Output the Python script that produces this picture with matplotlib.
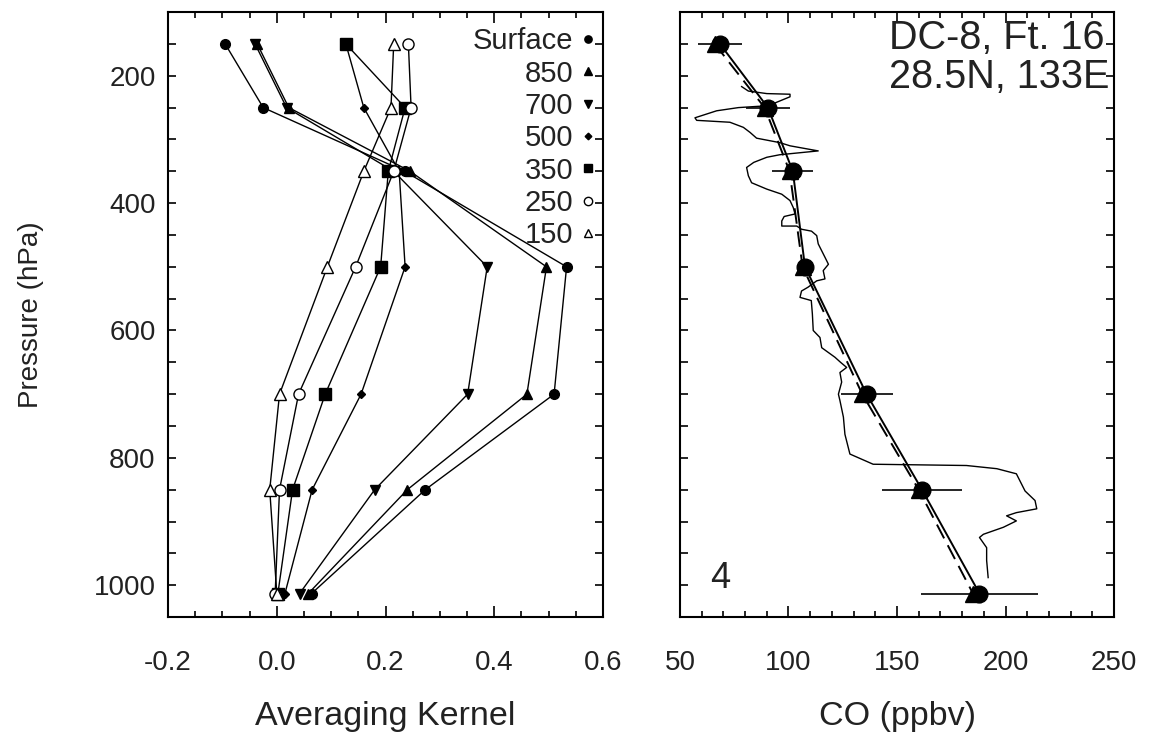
import matplotlib
matplotlib.use('Agg')
import matplotlib.pyplot as plt
from matplotlib.ticker import MultipleLocator
from matplotlib.lines import Line2D

plt.rcParams['font.family'] = ['Liberation Sans', 'DejaVu Sans']

# pressure levels of the retrieval (hPa), last one is the surface
levels = [150, 250, 350, 500, 700, 850, 1013]

# averaging kernel rows, values at each level
ak_surface = [-0.095, -0.025, 0.235, 0.533, 0.510, 0.273, 0.064]
ak_850 = [-0.036, 0.022, 0.245, 0.496, 0.460, 0.240, 0.058]
ak_700 = [-0.040, 0.018, 0.215, 0.387, 0.351, 0.180, 0.042]
ak_500 = [0.127, 0.160, 0.225, 0.236, 0.155, 0.065, 0.015]
ak_350 = [0.127, 0.236, 0.205, 0.191, 0.089, 0.029, 0.002]
ak_250 = [0.242, 0.247, 0.215, 0.145, 0.040, 0.005, -0.003]
ak_150 = [0.215, 0.210, 0.160, 0.093, 0.005, -0.013, 0.000]
ak_labels = ['Surface', '850', '700', '500', '350', '250', '150']

# CO profile (ppbv)
co_retrieved = [68.4, 90.5, 102.0, 107.6, 136.0, 161.5, 188.0]
co_retrieved_err = [10.3, 10.0, 9.5, 3.0, 12.0, 18.5, 27.0]
co_smoothed = [66.0, 89.0, 100.5, 106.5, 134.0, 160.0, 185.0]

insitu_p = [217, 224, 228, 229, 233, 247, 250, 255, 266, 270, 273, 281, 289,
            298, 305, 310, 318, 324, 328, 336, 344, 357, 368, 378, 386, 396,
            407, 417, 421, 428, 436, 436, 441, 444, 451, 464, 485, 496, 506,
            519, 522, 532, 538, 548, 553, 574, 600, 611, 627, 642, 650, 658,
            666, 681, 700, 710, 736, 763, 794, 810, 812, 817, 825, 852, 867,
            880, 886, 891, 899, 909, 920, 925, 941, 961, 988]
insitu_co = [78.4, 81.5, 90.0, 100.7, 100.7, 90.7, 76.9, 66.9, 56.9, 57.7,
             73.0, 79.2, 82.3, 85.3, 96.0, 100.7, 113.7, 96.0, 90.0, 84.0,
             80.7, 81.5, 83.0, 90.0, 96.9, 100.7, 102.2, 103.0, 98.0, 96.9,
             96.9, 103.8, 106.0, 110.6, 113.0, 113.7, 116.8, 118.4, 116.0,
             116.8, 113.0, 109.0, 106.0, 105.3, 110.5, 111.0, 111.4, 114.5,
             115.3, 121.4, 124.0, 126.8, 123.7, 124.5, 123.0, 123.7, 125.3,
             126.0, 128.3, 139.0, 182.0, 196.0, 205.0, 209.0, 213.6, 214.4,
             205.0, 200.5, 205.0, 199.0, 189.8, 188.0, 191.3, 191.3, 192.0]

fig = plt.figure(figsize=(11.59, 7.32), dpi=100)
ax1 = fig.add_axes([0.145, 0.157, 0.3753, 0.8265])
ax2 = fig.add_axes([0.5867, 0.157, 0.3745, 0.8265])

# left panel: averaging kernels
series = [ak_surface, ak_850, ak_700, ak_500, ak_350, ak_250, ak_150]
styles = [('o', 'k', 7), ('^', 'k', 7), ('v', 'k', 7), ('D', 'k', 4.5),
          ('s', 'k', 8.5), ('o', 'w', 8), ('^', 'w', 8)]
handles = []
for vals, lab, (m, fc, ms) in zip(series, ak_labels, styles):
    ax1.plot(vals, levels, color='k', lw=1.0, marker=m, ms=ms, mfc=fc,
             mec='k', mew=1.0)
    handles.append(Line2D([], [], ls='none', marker=m, ms=ms * 0.75,
                          mfc=fc, mec='k', mew=1.0, label=lab))

ax1.legend(handles=handles, loc='upper right', bbox_to_anchor=(0.985, 0.975),
           markerfirst=False, frameon=False, fontsize=21, handlelength=0.6,
           handletextpad=0.2, labelspacing=0.15, borderpad=0, borderaxespad=0,
           labelcolor='#222222')

ax1.set_xlim(-0.2, 0.6)
ax1.xaxis.set_minor_locator(MultipleLocator(0.05))
ax1.set_xticks([-0.2, 0.0, 0.2, 0.4, 0.6])
ax1.set_xticklabels(['-0.2', '0.0', '0.2', '0.4', '0.6'])
ax1.set_xlabel('Averaging Kernel', fontsize=24.5, labelpad=18, color='#222222')
ax1.set_ylabel('Pressure (hPa)', fontsize=20, labelpad=36, color='#222222')

# right panel: CO profiles
ax2.plot(insitu_co, insitu_p, color='k', lw=1.0)
ax2.plot(co_smoothed, levels, color='k', lw=1.4, ls=(0, (8, 4)))
ax2.plot(co_retrieved, levels, color='k', lw=1.4)
ax2.errorbar(co_retrieved, levels, xerr=co_retrieved_err, fmt='none',
             ecolor='k', elinewidth=1.2)
ax2.plot(co_smoothed, levels, ls='none', marker='^', ms=11, color='k')
ax2.plot(co_retrieved, levels, ls='none', marker='o', ms=12, color='k')

ax2.set_xlim(50, 250)
ax2.xaxis.set_major_locator(MultipleLocator(50))
ax2.xaxis.set_minor_locator(MultipleLocator(10))
ax2.set_xlabel('CO (ppbv)', fontsize=24.5, labelpad=18, color='#222222')
ax2.text(0.979, 0.957, 'DC-8, Ft. 16', transform=ax2.transAxes, ha='right',
         va='center', fontsize=28.5, color='#222222')
ax2.text(0.99, 0.893, '28.5N, 133E', transform=ax2.transAxes, ha='right',
         va='center', fontsize=28.5, color='#222222')
ax2.text(0.092, 0.064, '4', transform=ax2.transAxes, ha='center',
         va='center', fontsize=26, color='#222222')

for ax in (ax1, ax2):
    ax.set_ylim(1050, 100)
    ax.yaxis.set_major_locator(MultipleLocator(200))
    ax.yaxis.set_minor_locator(MultipleLocator(50))
    ax.tick_params(which='both', direction='in', top=True, right=True,
                   width=1.2, colors='k', labelcolor='#222222')
    ax.tick_params(axis='y', which='both', length=6, pad=9, labelsize=20)
    ax.tick_params(axis='x', which='major', length=8, pad=24, labelsize=20)
    ax.tick_params(axis='x', which='minor', length=4)
    for s in ax.spines.values():
        s.set_linewidth(1.5)

ax2.tick_params(axis='y', labelleft=False)

fig.savefig('out.png', dpi=100)
